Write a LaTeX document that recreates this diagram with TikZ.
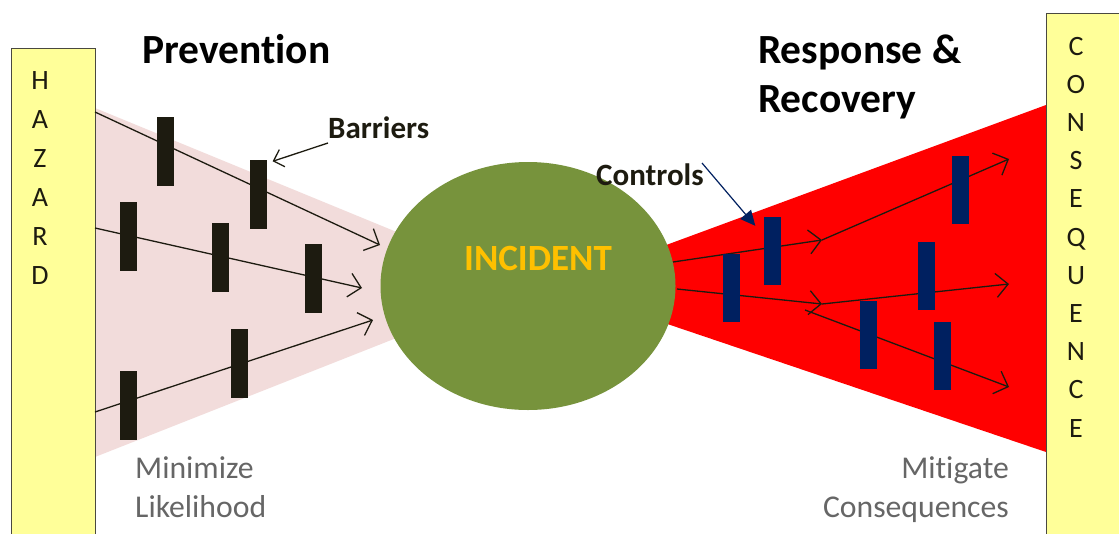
\documentclass[tikz,border=0pt]{standalone}
\usepackage{fontspec}
\setmainfont[Ligatures=NoCommon]{Carlito}
\usetikzlibrary{arrows.meta,shapes.geometric}
\definecolor{wedgepink}{HTML}{F2DCDB}
\definecolor{incidentgreen}{HTML}{77933C}
\definecolor{incidentgold}{HTML}{FFC000}
\definecolor{controlblue}{HTML}{002060}
\definecolor{barrierblack}{HTML}{1D1B10}
\definecolor{boxyellow}{HTML}{FFFF99}
\definecolor{notegray}{HTML}{666666}
\tikzset{
  barrier/.style={fill=barrierblack, minimum width=17pt, minimum height=69pt, inner sep=0pt},
  control/.style={fill=controlblue, minimum width=17pt, minimum height=68pt, inner sep=0pt},
  path/.style={line width=1.3pt, draw=barrierblack, -{Straight Barb[length=12pt,width=24pt,line width=1.3pt]}},
  letter/.style={anchor=base, inner sep=0pt, text=barrierblack, font=\fontsize{28}{32}\selectfont},
  title/.style={anchor=base west, inner sep=0pt, font=\bfseries\fontsize{41.5}{48}\selectfont},
  callout/.style={anchor=base west, inner sep=0pt, text=barrierblack, font=\bfseries\fontsize{31}{36}\selectfont},
  note/.style={inner sep=0pt, text=notegray, font=\fontsize{31.7}{36}\selectfont}
}
\begin{document}
\begin{tikzpicture}[x=1pt,y=-1pt]
\clip (0,0) rectangle (1119,533);
\fill[white] (0,0) rectangle (1119,533);
% wedges behind the incident
\fill[wedgepink] (95,108) -- (528,286) -- (95,457) -- cycle;
\fill[red] (1046,105) -- (555,286) -- (1046,452) -- cycle;
\node[ellipse, fill=incidentgreen, minimum width=295pt, minimum height=248pt, inner sep=0pt] (incident) at (528,286) {};
\node[anchor=base, inner sep=0pt, text=incidentgold, font=\bfseries\fontsize{37}{44}\selectfont] (incidentlabel) at (538,270) {INCIDENT};
% hazard and consequence boxes
\node[draw=barrierblack!80, line width=1.2pt, fill=boxyellow, anchor=north west, minimum width=84pt, minimum height=500pt, inner sep=0pt] (hazard) at (11,48) {};
\node[draw=barrierblack!80, line width=1.2pt, fill=boxyellow, anchor=north west, minimum width=90pt, minimum height=540pt, inner sep=0pt] (consequence) at (1046,13) {};
\foreach \ch [count=\i] in {H,A,Z,A,R,D}
  \node[letter] (haz\i) at ({40},{89+39*(\i-1)}) {\ch};
\foreach \ch [count=\i] in {C,O,N,S,E,Q,U,E,N,C,E}
  \node[letter] (con\i) at ({1076},{55+38.2*(\i-1)}) {\ch};
% threat lines
\coordinate (h1) at (95,112);
\coordinate (h2) at (95,228);
\coordinate (h3) at (95,412);
\coordinate (t1) at (380,245);
\coordinate (t2) at (362,288);
\coordinate (t3) at (373,320);
\draw[path] (h1) -- (t1);
\draw[path] (h2) -- (t2);
\draw[path] (h3) -- (t3);
% consequence lines
\coordinate (i1) at (673,262);
\coordinate (i2) at (677,289);
\coordinate (k1) at (822,240);
\coordinate (k2) at (822,304);
\coordinate (k3) at (805,310);
\coordinate (e1) at (1009,159);
\coordinate (e2) at (1009,284);
\coordinate (e3) at (1009,387);
\draw[path] (i1) -- (k1);
\draw[path] (k1) -- (e1);
\draw[path] (i2) -- (k2);
\draw[path] (k2) -- (e2);
\draw[path] (k3) -- (e3);
% barriers
\node[barrier] (b1) at (165,151) {};
\node[barrier] (b2) at (258,194) {};
\node[barrier] (b3) at (128,236) {};
\node[barrier] (b4) at (220,257) {};
\node[barrier] (b5) at (313,278) {};
\node[barrier] (b6) at (239,363) {};
\node[barrier] (b7) at (128,405) {};
% controls
\node[control] (c1) at (772,251) {};
\node[control] (c2) at (731,288) {};
\node[control] (c3) at (960,190) {};
\node[control] (c4) at (926,276) {};
\node[control] (c5) at (868,335) {};
\node[control] (c6) at (942,356) {};
% labels
\node[title] (prevention) at (142,63) {Prevention};
\node[title] (response) at (758,63) {Response \&};
\node[title] (recovery) at (758,112) {Recovery};
\node[callout] (barriers) at (328,138) {Barriers};
\node[callout] (controls) at (596,185) {Controls};
\coordinate (bstart) at (328,143);
\coordinate (cstart) at (702,163);
\draw[line width=1.3pt, draw=barrierblack, -{Straight Barb[length=9pt,width=18pt,line width=1.3pt]}] (bstart) -- ([shift={(6,2)}]b2.north east);
\draw[line width=1.2pt, draw=controlblue, -{Triangle[length=15pt,width=14pt]}] (cstart) -- ([shift={(-8,9)}]c1.north west);
\node[note, anchor=base west] (minimize) at (135,478) {Minimize};
\node[note, anchor=base west] (likelihood) at (135,517) {Likelihood};
\node[note, anchor=base east] (mitigate) at (1009,478) {Mitigate};
\node[note, anchor=base east] (consequences) at (1009,517) {Consequences};
\end{tikzpicture}
\end{document}
